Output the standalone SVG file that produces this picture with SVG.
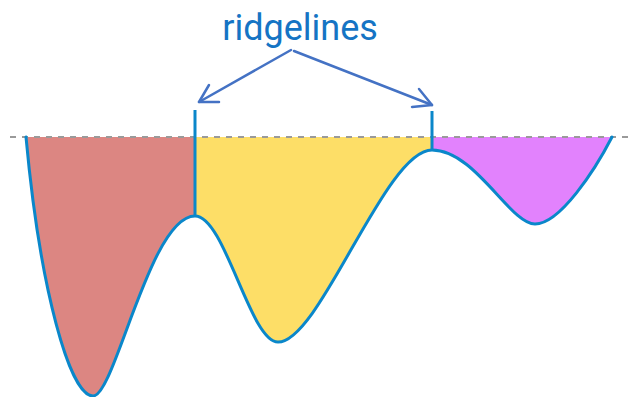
<svg xmlns="http://www.w3.org/2000/svg" width="628" height="397" viewBox="0 0 628 397">
<style>
.fill-red{fill:#DC8682;stroke:none}
.fill-yel{fill:#FDDE67;stroke:none}
.fill-mag{fill:#E282FD;stroke:none}
.curve{fill:none;stroke:#0A87CA;stroke-width:3;stroke-linejoin:round;stroke-linecap:round}
.ridge{stroke:#0A87CA;stroke-width:3}
.water{stroke:#9A9A9A;stroke-width:2;stroke-dasharray:6 6}
.arrow{fill:none;stroke:#4472C4;stroke-width:2.5;stroke-linecap:round;stroke-linejoin:round}
.label{font-family:Roboto,"Liberation Sans",sans-serif;font-size:36px;fill:#1574C4}
</style>
<g id="basin-left">
<path class="fill-red" d="M26,137 C40,290 70,396 93,396 C115,396 150,216 195,216 L195,137 Z"/>
</g>
<g id="basin-middle">
<path class="fill-yel" d="M195,137 L195,216 C225,216 250,342 278,342 C320,342 385,150 432,150 L432,137 Z"/>
</g>
<g id="basin-right">
<path class="fill-mag" d="M432,137 L432,150 C475,150 510,224 535,224 C560,224 595,170 612,137 Z"/>
</g>
<g id="waterline">
<line class="water" x1="10" y1="137" x2="628" y2="137"/>
</g>
<g id="terrain">
<path class="curve" d="M26,137 C40,290 70,396 93,396 C115,396 150,216 195,216 C225,216 250,342 278,342 C320,342 385,150 432,150 C475,150 510,224 535,224 C560,224 595,170 612,137"/>
</g>
<g id="ridgeline-1">
<line class="ridge" x1="195" y1="110" x2="195" y2="216"/>
</g>
<g id="ridgeline-2">
<line class="ridge" x1="432" y1="111" x2="432" y2="150"/>
</g>
<g id="label-ridgelines">
<text class="label" x="300" y="40" text-anchor="middle">ridgelines</text>
</g>
<g id="connectors">
<path class="arrow" d="M291,50 L199,102"/>
<path class="arrow" d="M209,85 L199,102 L219,102"/>
<path class="arrow" d="M294,51 L432,105"/>
<path class="arrow" d="M419,89 L432,105 L412,107"/>
</g>
</svg>
